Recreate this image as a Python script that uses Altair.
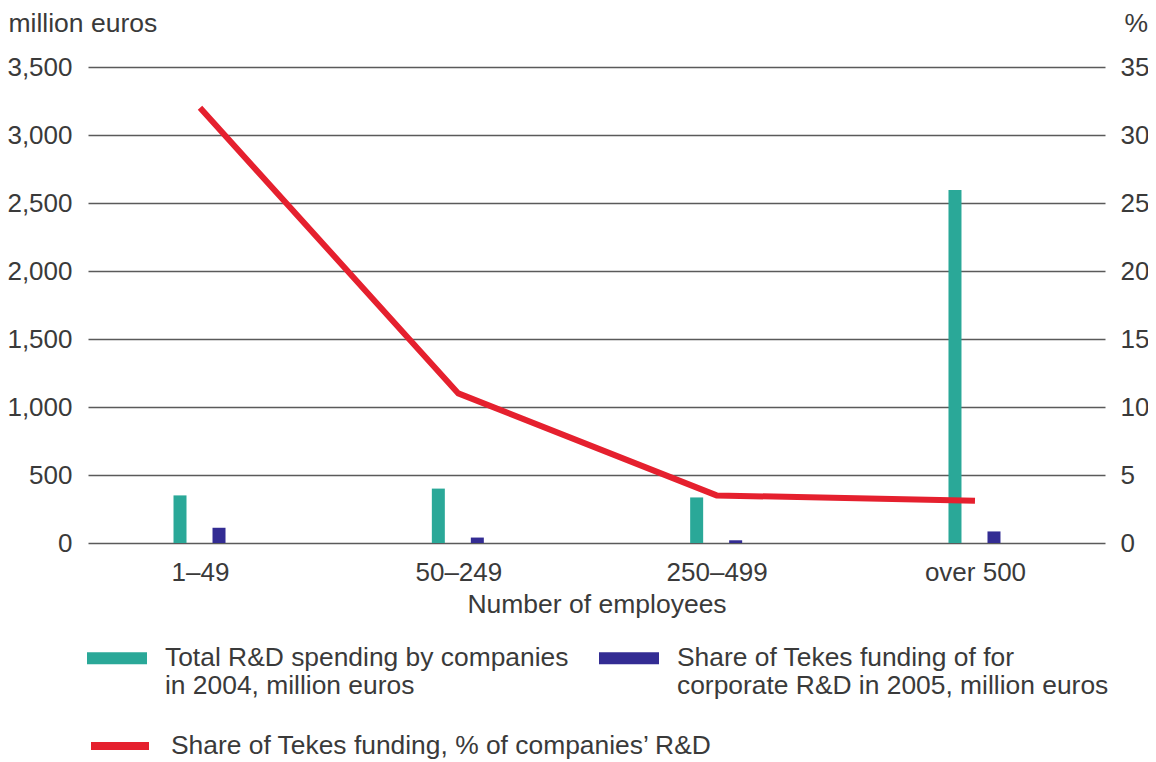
import altair as alt
import pandas as pd

# ---- data ----
categories = ["1–49", "50–249", "250–499", "over 500"]
total_rd_2004 = [350, 400, 335, 2595]          # million euros
tekes_funding_2005 = [112, 40, 20, 85]         # million euros
tekes_share_pct = [32.0, 11.0, 3.5, 3.1]       # % of companies' R&D

series_total = "Total R&D spending by companies|in 2004, million euros"
series_tekes = "Share of Tekes funding of for|corporate R&D in 2005, million euros"
series_share = "Share of Tekes funding, % of companies’ R&D"

left_ticks = [0, 500, 1000, 1500, 2000, 2500, 3000, 3500]
right_ticks = [0, 5, 10, 15, 20, 25, 30, 35]

FONT = "Liberation Sans"
LFS = 26     # axis labels
TFS = 26.5   # axis titles
GFS = 26.4   # legend labels
TXT = "#3a3a3a"
TEAL = "#2aa898"
NAVY = "#332c93"
RED = "#e5202e"

idx = list(range(len(categories)))
df_total = pd.DataFrame({"pos": idx, "category": categories, "series": series_total, "value": total_rd_2004})
df_tekes = pd.DataFrame({"pos": idx, "category": categories, "series": series_tekes, "value": tekes_funding_2005})
df_share = pd.DataFrame({"pos": idx, "category": categories, "series": series_share, "share": tekes_share_pct})

label_js = "[" + ",".join("'" + c + "'" for c in categories) + "][datum.value]"

x_enc = alt.X(
    "pos:Q",
    scale=alt.Scale(domain=[-0.4336, 3.5033], nice=False, zero=False, padding=0),
    axis=alt.Axis(title="Number of employees", values=idx, labelExpr=label_js,
                  labelAngle=0, ticks=False, domain=False, grid=False,
                  labelPadding=16, titleY=69, titleBaseline="alphabetic"),
)

y_left = alt.Y(
    "value:Q",
    scale=alt.Scale(domain=[0, 3500], nice=False),
    axis=alt.Axis(values=left_ticks, format=",.0f", title="million euros", titleAngle=0,
                  titleAlign="left", titleBaseline="alphabetic", titleX=-80, titleY=-36,
                  ticks=False, domain=False, labelPadding=16, grid=True,
                  gridColor="#5a5a5a", gridWidth=1.5),
)

fill_scale = alt.Scale(domain=[series_total, series_tekes], range=[TEAL, NAVY])
fill_legend = alt.Legend(
    title=None, orient="none", legendX=-1, legendY=561, columns=2,
    symbolType="M-1,-0.2H1V0.2H-1Z", symbolSize=3600, symbolStrokeWidth=0,
    labelExpr="split(datum.label, '|')", labelLimit=700, labelOffset=18,
    columnPadding=30, labelFont=FONT, labelFontSize=GFS, labelColor=TXT, padding=0,
)

teal_bars = alt.Chart(df_total).mark_bar(size=13, xOffset=-20).encode(
    x=x_enc, y=y_left,
    fill=alt.Fill("series:N", scale=fill_scale, legend=fill_legend),
)
navy_bars = alt.Chart(df_tekes).mark_bar(size=13, xOffset=19).encode(
    x=x_enc, y=y_left,
    fill=alt.Fill("series:N", scale=fill_scale, legend=fill_legend),
)
bars = alt.layer(teal_bars, navy_bars)

line = alt.Chart(df_share).mark_line(strokeWidth=6, strokeCap="butt").encode(
    x=x_enc,
    y=alt.Y("share:Q", scale=alt.Scale(domain=[0, 35], nice=False),
            axis=alt.Axis(orient="right", values=right_ticks, title="%", titleAngle=0,
                          titleAlign="left", titleBaseline="alphabetic", titleX=19, titleY=-36,
                          ticks=False, domain=False, labelPadding=15, grid=False)),
    stroke=alt.Stroke("series:N", scale=alt.Scale(domain=[series_share], range=[RED]),
                      legend=alt.Legend(title=None, orient="none", legendX=-1, legendY=646,
                                        symbolType="stroke", symbolSize=3364, symbolStrokeWidth=8,
                                        labelLimit=700, labelOffset=18, labelFont=FONT,
                                        labelFontSize=GFS, labelColor=TXT, padding=0)),
)

chart = (
    alt.layer(bars, line)
    .resolve_scale(y="independent")
    .properties(
        width=1017, height=476,
        autosize=alt.AutoSizeParams(type="none"),
        padding={"left": 80, "top": 59, "right": 43, "bottom": 217},
        background="white",
    )
    .configure(style={"guide-label": {"lineHeight": 28}})
    .configure_view(stroke=None)
    .configure_axis(labelFont=FONT, labelFontSize=LFS, labelColor=TXT,
                    titleFont=FONT, titleFontSize=TFS, titleColor=TXT, titleFontWeight="normal")
)

chart.save("out.html", embed_options={"renderer": "svg", "actions": False})
